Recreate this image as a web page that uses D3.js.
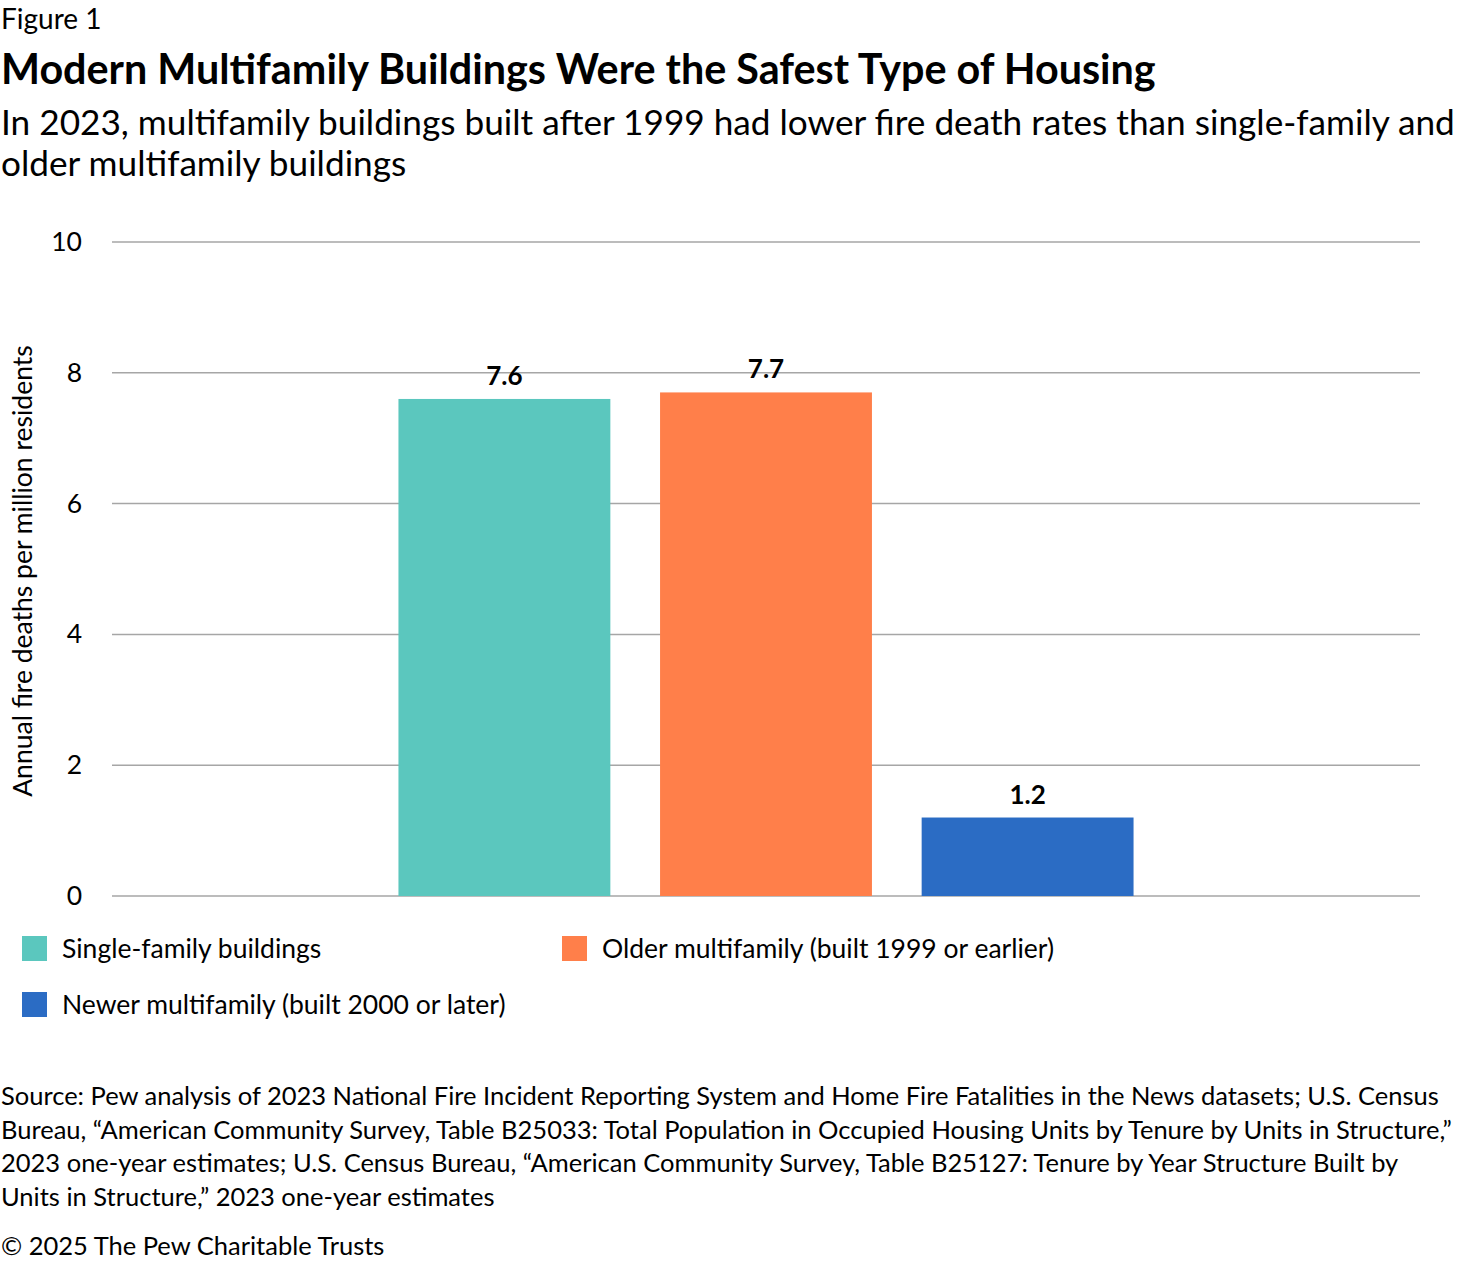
<!DOCTYPE html>
<html>
<head>
<meta charset="utf-8">
<script src="https://cdn.jsdelivr.net/npm/d3@7"></script>
<style>
  body { margin: 0; background: #fff; font-family: Lato, sans-serif; color: #000; }
  svg text { font-family: Lato, sans-serif; }
</style>
</head>
<body>
<svg id="chart" width="1460" height="1264"></svg>
<script>
// Data
const categories = ["Single-family buildings", "Older multifamily (built 1999 or earlier)", "Newer multifamily (built 2000 or later)"];
const values = [7.6, 7.7, 1.2];
const colors = ["#5BC7BE", "#FF7F4A", "#2B6CC4"];
const yTicks = [0, 2, 4, 6, 8, 10];

const sourceLines = [
  "Source: Pew analysis of 2023 National Fire Incident Reporting System and Home Fire Fatalities in the News datasets; U.S. Census",
  "Bureau, \u201cAmerican Community Survey, Table B25033: Total Population in Occupied Housing Units by Tenure by Units in Structure,\u201d",
  "2023 one-year estimates; U.S. Census Bureau, \u201cAmerican Community Survey, Table B25127: Tenure by Year Structure Built by",
  "Units in Structure,\u201d 2023 one-year estimates"
];

const svg = d3.select("#chart");

// Header
svg.append("text").attr("x", 1).attr("y", 29).attr("font-size", 28).text("Figure 1");
svg.append("text").attr("x", 1).attr("y", 84).attr("font-size", 41.3).attr("font-weight", 700)
  .text("Modern Multifamily Buildings Were the Safest Type of Housing");
svg.append("text").attr("x", 1).attr("y", 135).attr("font-size", 35.2)
  .text("In 2023, multifamily buildings built after 1999 had lower fire death rates than single-family and");
svg.append("text").attr("x", 1).attr("y", 176).attr("font-size", 35.2)
  .text("older multifamily buildings");

// Plot area
const plotLeft = 112, plotRight = 1420, plotTop = 242, plotBottom = 896;

const x = d3.scaleBand()
  .domain(categories)
  .range([plotLeft, plotRight])
  .paddingInner(0.19)
  .paddingOuter(1.095);

const y = d3.scaleLinear()
  .domain([0, 10])
  .range([plotBottom, plotTop]);

// Gridlines
svg.append("g")
  .selectAll("line")
  .data(yTicks)
  .enter()
  .append("line")
  .attr("x1", plotLeft)
  .attr("x2", plotRight)
  .attr("y1", d => y(d))
  .attr("y2", d => y(d))
  .attr("stroke", "#a6a6a6")
  .attr("stroke-width", 1.5);

// Y axis labels
const yAxis = svg.append("g")
  .attr("transform", `translate(${plotLeft},0)`)
  .call(d3.axisLeft(y).tickValues(yTicks).tickSize(0).tickPadding(30));
yAxis.select(".domain").remove();
yAxis.selectAll("text").attr("font-size", 26.5).attr("fill", "#000").attr("font-family", "Lato, sans-serif");

// Y axis title
svg.append("text")
  .attr("transform", `translate(32,${(345 + 797) / 2}) rotate(-90)`)
  .attr("text-anchor", "middle")
  .attr("font-size", 26.5)
  .text("Annual fire deaths per million residents");

// Bars
svg.selectAll(".bar")
  .data(values)
  .enter()
  .append("rect")
  .attr("class", "bar")
  .attr("x", (d, i) => x(categories[i]))
  .attr("y", d => y(d))
  .attr("width", x.bandwidth())
  .attr("height", d => y(0) - y(d))
  .attr("fill", (d, i) => colors[i]);

// Value labels
svg.selectAll(".value")
  .data(values)
  .enter()
  .append("text")
  .attr("class", "value")
  .attr("x", (d, i) => x(categories[i]) + x.bandwidth() / 2)
  .attr("y", d => y(d) - 14)
  .attr("text-anchor", "middle")
  .attr("font-size", 26)
  .attr("font-weight", 700)
  .text(d => d.toFixed(1));

// Legend
const legendPos = [[22, 936], [562, 936], [22, 992]];
categories.forEach((c, i) => {
  const g = svg.append("g").attr("transform", `translate(${legendPos[i][0]},${legendPos[i][1]})`);
  g.append("rect").attr("width", 25).attr("height", 25).attr("fill", colors[i]);
  g.append("text").attr("x", 40).attr("y", 22).attr("font-size", 26.5).text(c);
});

// Source
sourceLines.forEach((line, i) => {
  svg.append("text").attr("x", 1).attr("y", 1105 + i * 33.5).attr("font-size", 25.5).text(line);
});
svg.append("text").attr("x", 1).attr("y", 1255).attr("font-size", 25.5).text("\u00a9 2025 The Pew Charitable Trusts");
</script>
</body>
</html>
